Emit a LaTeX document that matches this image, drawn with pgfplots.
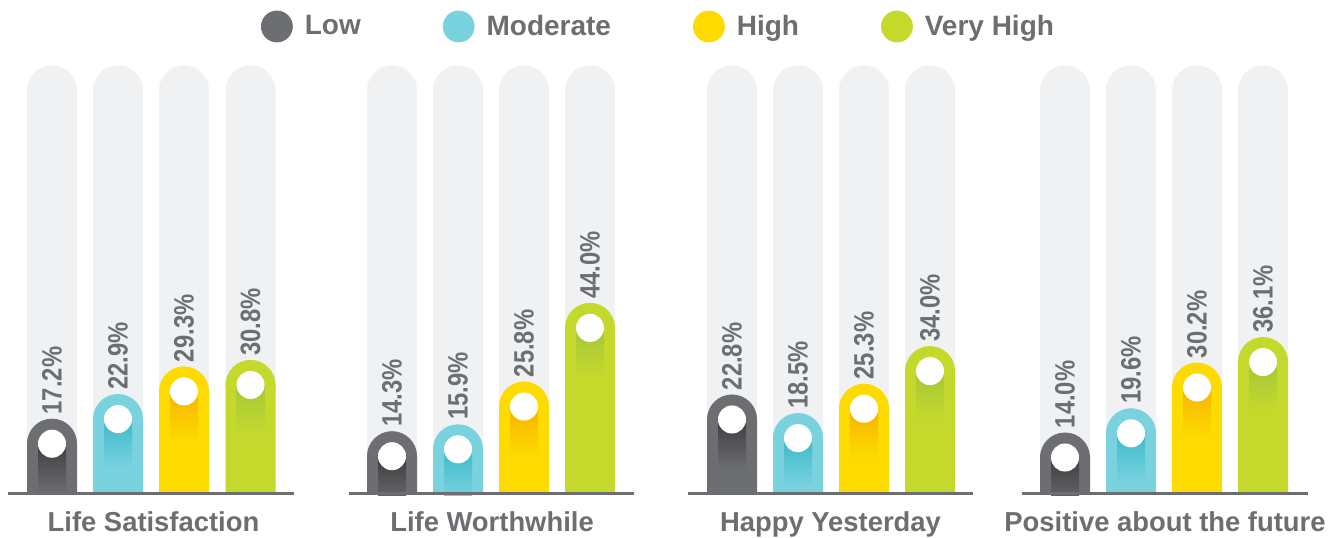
\documentclass[border=0pt]{standalone}
\usepackage{pgfplots}
\pgfplotsset{compat=1.18}
\usepackage{pgfplotstable}
\usepackage{fontspec}
\setmainfont{Liberation Sans}
\newfontfamily\condfont[FakeStretch=0.85]{Liberation Sans}

\definecolor{lowc}{HTML}{6D6E71}
\definecolor{lowd}{HTML}{3E3E41}
\definecolor{modc}{HTML}{7AD2DF}
\definecolor{modd}{HTML}{3DBACB}
\definecolor{highc}{HTML}{FEDB00}
\definecolor{highd}{HTML}{F6B400}
\definecolor{vhc}{HTML}{C5D92D}
\definecolor{vhd}{HTML}{A5C737}
\definecolor{bgc}{HTML}{F0F1F3}
\definecolor{txt}{HTML}{6D6E71}

\pgfdeclareplotmark{shLow}{\path[draw=none, top color=lowd,bottom color=lowc] (-7pt,-25pt) rectangle (7pt,0pt);}
\pgfdeclareplotmark{shMod}{\path[draw=none, top color=modd,bottom color=modc] (-7pt,-25pt) rectangle (7pt,0pt);}
\pgfdeclareplotmark{shHigh}{\path[draw=none, top color=highd,bottom color=highc] (-7pt,-25pt) rectangle (7pt,0pt);}
\pgfdeclareplotmark{shVH}{\path[draw=none, top color=vhd,bottom color=vhc] (-7pt,-25pt) rectangle (7pt,0pt);}

% x = bar centre (px), v = value in %
\pgfplotstableread{
x v
52 17.2
392 14.3
732 22.8
1065 14.0
}\lowtab
\pgfplotstableread{
x v
118 22.9
458 15.9
798 18.5
1131 19.6
}\modtab
\pgfplotstableread{
x v
184 29.3
524 25.8
864 25.3
1197 30.2
}\hightab
\pgfplotstableread{
x v
250.5 30.8
590 44.0
930 34.0
1263 36.1
}\vhtab
\pgfplotstableread{
x v
52 99
118 99
184 99
250.5 99
392 99
458 99
524 99
590 99
732 99
798 99
864 99
930 99
1065 99
1131 99
1197 99
1263 99
}\bgtab

\pgfplotsset{
  barpart/.style={ybar, bar width=25pt, bar shift=0pt, draw=none, fill=#1},
  cappart/.style={only marks, mark=*, mark size=12.3pt, mark options={fill=#1, draw=#1, line width=0.4pt}},
}
\newcommand{\capped}[2]{%
  \addplot[barpart=#2] table[x=x, y expr=\thisrow{v}-5.787]{#1};
  \addplot[cappart=#2] table[x=x, y expr=\thisrow{v}-5.787]{#1};
}
\newcommand{\series}[3]{%
  \capped{#1}{#2}
  \addplot[only marks, mark=#3] table[x=x, y expr=\thisrow{v}-5.787]{#1};
  \addplot[only marks, mark=*, mark size=6.8pt, mark options={fill=white, draw=white, line width=0.4pt}] table[x=x, y expr=\thisrow{v}-5.787]{#1};
  \addplot[draw=none, nodes near coords={\pgfmathprintnumber[fixed,fixed zerofill,precision=1]{\pgfplotspointmeta}\%},
    nodes near coords style={font=\condfont\bfseries\fontsize{14}{16}\selectfont, text=txt, rotate=90, anchor=west, inner xsep=2pt, inner ysep=0pt}]
    table[x=x, y=v]{#1};
}

\begin{document}
\begin{tikzpicture}
\begin{axis}[
  name=ax,
  scale only axis, width=667.5pt, height=247.58pt,
  xmin=0, xmax=1335, ymin=-0.5, ymax=114.12,
  clip marker paths=true,
  axis line style={draw=none},
  ytick=\empty,
  xtick={153.5,492,830.5,1165},
  xticklabels={Life Satisfaction,Life Worthwhile,Happy Yesterday,Positive about the future},
  xtick style={draw=none}, major tick length=0pt,
  xticklabel style={font=\bfseries\fontsize{13.7}{16}\selectfont, text=txt, anchor=base, yshift=-18.42pt, inner sep=0pt},
  /pgf/number format/assume math mode=true,
  legend columns=4,
  legend style={at={(rel axis cs:0.494,0.9465)}, anchor=center, draw=none, fill=none,
    font=\bfseries\fontsize{14}{16}\selectfont, text=txt,
    /tikz/every even column/.append style={column sep=39pt},
    /tikz/every odd column/.append style={column sep=4pt}},
]
\addlegendimage{legend image code/.code={\fill[lowc] (7.75pt,0pt) circle (7.75pt);}}
\addlegendimage{legend image code/.code={\fill[modc] (7.75pt,0pt) circle (7.75pt);}}
\addlegendimage{legend image code/.code={\fill[highc] (7.75pt,0pt) circle (7.75pt);}}
\addlegendimage{legend image code/.code={\fill[vhc] (7.75pt,0pt) circle (7.75pt);}}
\legend{Low,Moderate,High,Very High}

\capped{\bgtab}{bgc}
\series{\lowtab}{lowc}{shLow}
\series{\modtab}{modc}{shMod}
\series{\hightab}{highc}{shHigh}
\series{\vhtab}{vhc}{shVH}

\addplot[line width=1.5pt, color=lowc] coordinates {(8,-0.12) (294,-0.12)};
\addplot[line width=1.5pt, color=lowc] coordinates {(349,-0.12) (634,-0.12)};
\addplot[line width=1.5pt, color=lowc] coordinates {(688,-0.12) (973,-0.12)};
\addplot[line width=1.5pt, color=lowc] coordinates {(1022,-0.12) (1308,-0.12)};
\end{axis}
\pgfresetboundingbox
\path[use as bounding box] ([yshift=-21.42pt]ax.south west) rectangle (ax.north east);
\end{tikzpicture}
\end{document}
